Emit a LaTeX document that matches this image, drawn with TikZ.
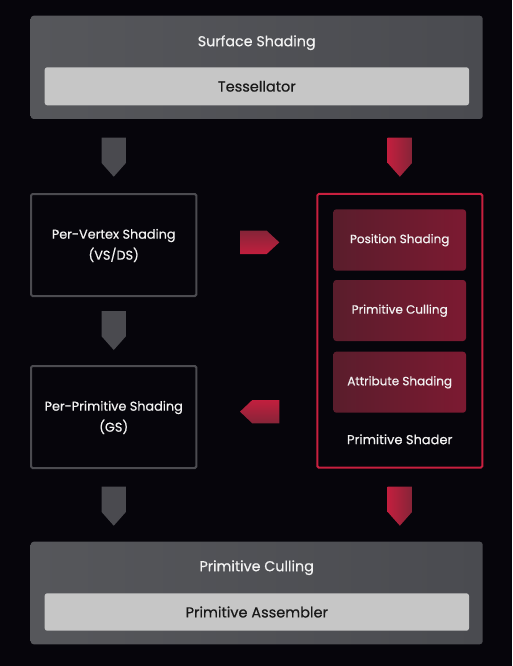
\documentclass[tikz,border=0pt]{standalone}
\usepackage{fontspec}
\setmainfont{Poppins}[FakeBold=0.5]
\usetikzlibrary{calc}
\definecolor{bg}{HTML}{06050B}
\definecolor{panelL}{HTML}{56575B}
\definecolor{panelR}{HTML}{4A4B50}
\definecolor{inner}{HTML}{C6C6C6}
\definecolor{greyedge}{HTML}{4B4B50}
\definecolor{greyarrow}{HTML}{4A4A4F}
\definecolor{redline}{HTML}{C8203F}
\definecolor{redA}{HTML}{C21F3E}
\definecolor{redB}{HTML}{862438}
\definecolor{cellA}{HTML}{5A1D2C}
\definecolor{cellB}{HTML}{7C1A31}
\definecolor{txt}{HTML}{F2F2F2}
\tikzset{
  panel/.style={left color=panelL, right color=panelR, rounded corners=3pt, draw=none},
  bar/.style={fill=inner, rounded corners=2.5pt, draw=none},
  stage/.style={draw=greyedge, line width=2pt, rounded corners=1.5pt},
  psbox/.style={draw=redline, line width=2pt, rounded corners=1.5pt},
  cell/.style={left color=cellA, right color=cellB, rounded corners=3pt, draw=none},
  wlabel/.style={text=txt, font=\fontsize{14.3}{17}\selectfont, align=center},
  slabel/.style={text=txt, font=\fontsize{12.8}{16}\selectfont, align=center},
  blabel/.style={text=black!90, font=\fontsize{14.5}{17}\selectfont, align=center},
  clabel/.style={text=txt, font=\fontsize{12}{14}\selectfont, align=center},
  pslabel/.style={text=txt, font=\fontsize{13}{16}\selectfont, align=center},
  greyarr/.style={fill=greyarrow},
  redarr/.style={left color=redA, right color=redB},
}
\newcommand\dnarrow[3]{% style, x-left, y-top
  \path[#1] (#2,#3) -- ++(24.3,0) -- ++(0,25.3) -- ++(-12.15,13.7) -- ++(-12.15,-13.7) -- cycle;}
\begin{document}
\begin{tikzpicture}[x=1pt,y=-1pt]
\useasboundingbox (0,0) rectangle (512,666);
\fill[bg] (0,0) rectangle (512,666);
% top panel
\path[panel] (30.7,15.7) rectangle (482.7,119);
\node[wlabel] (surf) at (256.7,42.7) {Surface Shading};
\path[bar] (44.7,67.3) rectangle (469,105.3);
\node[blabel] (tess) at (256.8,86.3) {Tessellator};
% left stages
\node[stage, minimum width=165.3pt, minimum height=102pt, inner sep=0pt] (pv) at (113.7,245) {};
\node[slabel] (pvl) at (113.7,245.5) {Per-Vertex Shading\\[5pt](VS/DS)};
\node[stage, minimum width=165.3pt, minimum height=102pt, inner sep=0pt] (pp) at (113.7,417) {};
\node[slabel] (ppl) at (113.7,417.5) {Per-Primitive Shading\\[5pt](GS)};
% primitive shader
\node[psbox, minimum width=165pt, minimum height=273.7pt, inner sep=0pt] (ps) at (399.8,330.8) {};
\path[cell] (333.3,209.3) rectangle (466,270.7);
\node[clabel] (pos) at (399.7,240.2) {Position Shading};
\path[cell] (333.3,280) rectangle (466,341);
\node[clabel] (cul) at (399.7,310.7) {Primitive Culling};
\path[cell] (333.3,351.7) rectangle (466,412.7);
\node[clabel] (att) at (399.7,382.3) {Attribute Shading};
\node[pslabel] (psl) at (399.7,439.3) {Primitive Shader};
% bottom panel
\path[panel] (30.7,541.7) rectangle (482.7,644.3);
\node[wlabel] (pcul) at (256.7,567.7) {Primitive Culling};
\path[bar] (44.7,593.3) rectangle (469,630.7);
\node[blabel] (pa) at (256.8,612) {Primitive Assembler};
% block arrows
\dnarrow{greyarr}{101.6}{137.7}
\dnarrow{redarr}{387.7}{137.7}
\dnarrow{greyarr}{101.6}{311}
\dnarrow{greyarr}{101.6}{486.7}
\dnarrow{redarr}{387.7}{486.7}
\path[top color=redB, bottom color=redA] (240,230.7) -- (266.7,230.7) -- (279.3,242.35) -- (266.7,254) -- (240,254) -- cycle;
\path[top color=redA, bottom color=redB] (279.3,400) -- (252.3,400) -- (240,411.65) -- (252.3,423.3) -- (279.3,423.3) -- cycle;
\end{tikzpicture}
\end{document}
